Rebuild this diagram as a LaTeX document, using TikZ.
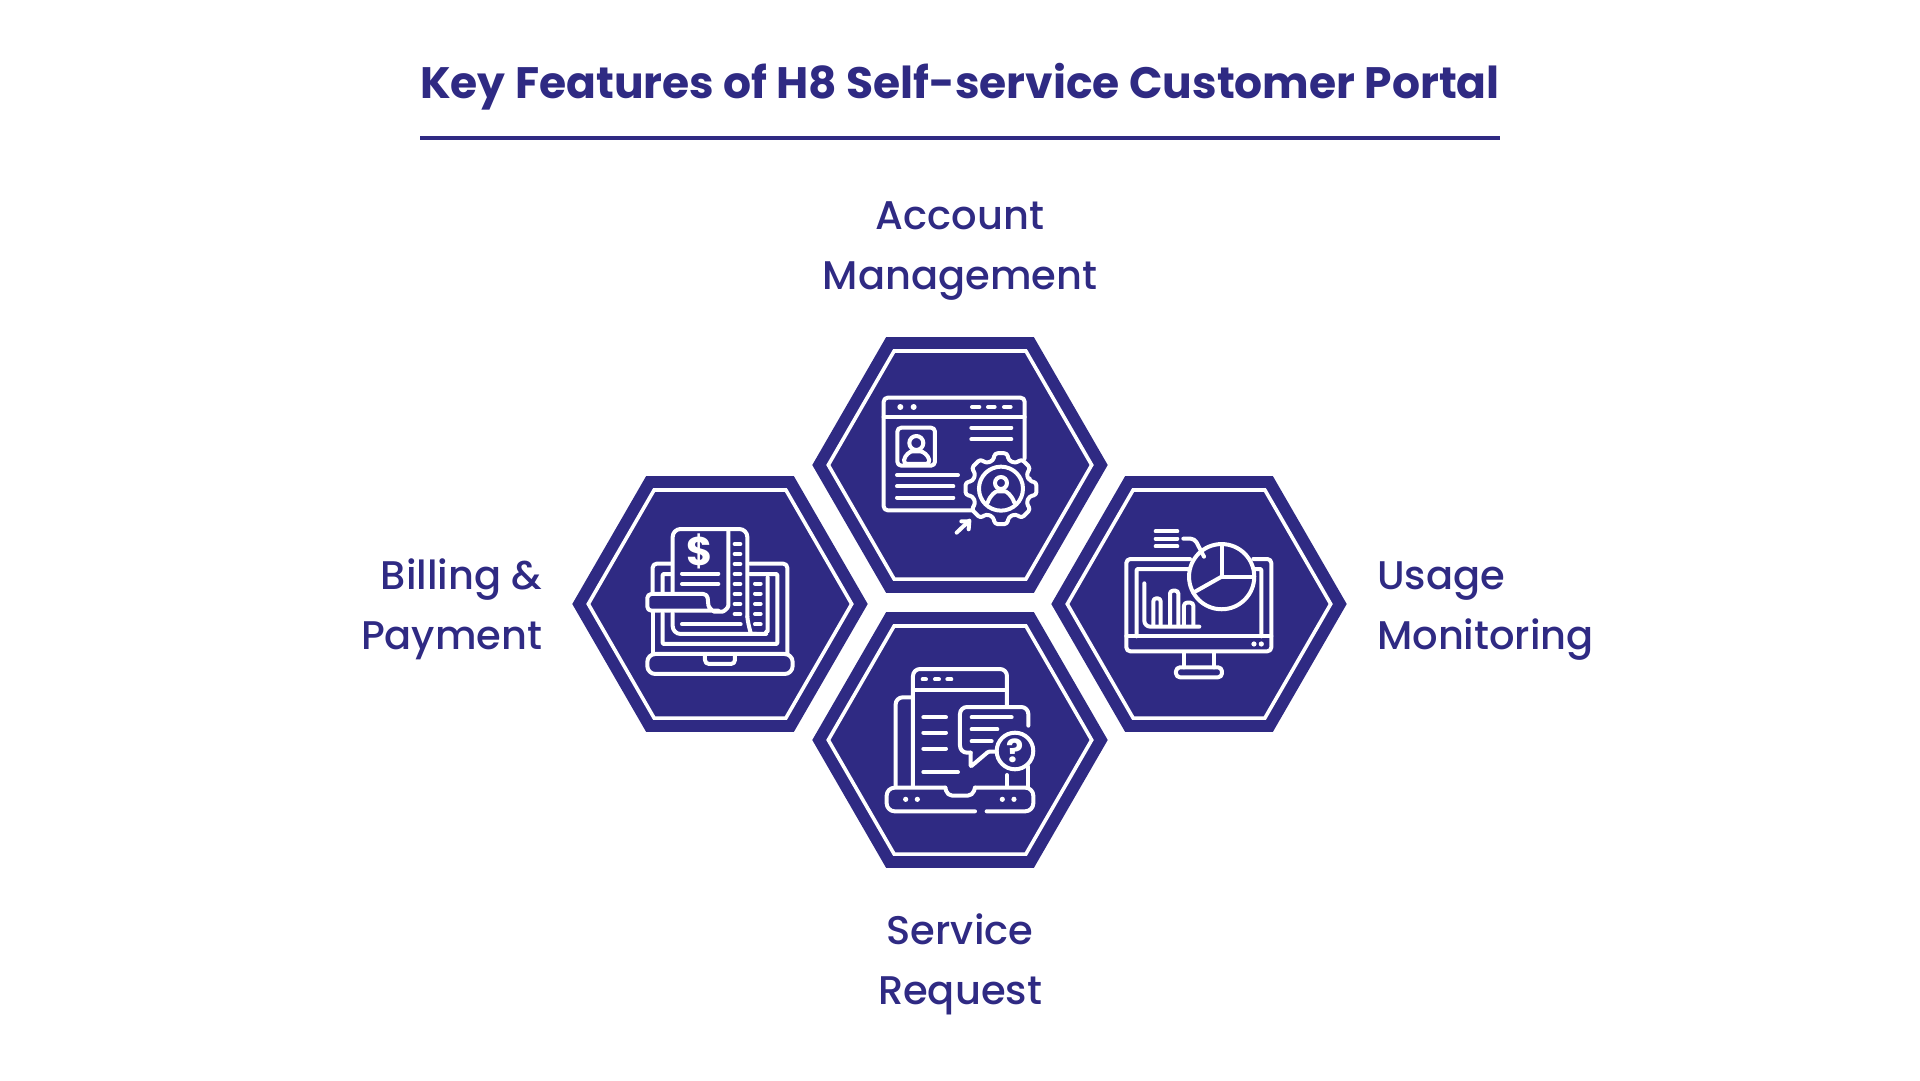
\documentclass[tikz,border=0pt]{standalone}
\usepackage{fontspec}
\setmainfont{Poppins}
\newfontfamily\medfont{Poppins Medium}
\usetikzlibrary{shapes.geometric}
\definecolor{hexblue}{HTML}{2F2A83}
\tikzset{
  hexouter/.style={regular polygon, regular polygon sides=6, fill=hexblue, minimum size=295.4pt, inner sep=0pt, outer sep=0pt},
  hexinner/.style={regular polygon, regular polygon sides=6, draw=white, line width=3.6pt, minimum size=263.4pt, inner sep=0pt, outer sep=0pt},
  labeltext/.style={text=hexblue, font=\fontsize{40}{60}\selectfont\medfont, inner sep=0pt},
  iconline/.style={draw=white, line width=4pt, line cap=round, line join=round, rounded corners=4pt},
  icondot/.style={fill=white, draw=none},
  iconscope/.style={x=0.3333pt, y=-0.3333pt}
}
\begin{document}
\begin{tikzpicture}[x=1pt, y=-1pt]
\useasboundingbox (0,0) rectangle (1920,1080);
% title
\node (title) [text=hexblue, font=\fontsize{44}{50}\selectfont\bfseries, inner sep=0pt] at (960,87) {Key Features of H8 Self-service Customer Portal};
\coordinate (ruleleft) at (420,138);
\coordinate (ruleright) at (1500,138);
\draw[hexblue, line width=3.6pt] (ruleleft) -- (ruleright);
% hexagons
\node (hexaccount) [hexouter] at (960,465) {};
\node (hexbilling) [hexouter] at (720,604) {};
\node (hexusage) [hexouter] at (1199,604) {};
\node (hexservice) [hexouter] at (960,740) {};
\node (lineaccount) [hexinner] at (hexaccount) {};
\node (linebilling) [hexinner] at (hexbilling) {};
\node (lineusage) [hexinner] at (hexusage) {};
\node (lineservice) [hexinner] at (hexservice) {};
% labels
\node (labelaccount) [labeltext, align=center] at (960,251) {Account\\Management};
\node (labelbilling) [labeltext, align=right, anchor=east] at (542.5,609) {Billing \&\\Payment};
\node (labelusage) [labeltext, align=left, anchor=west] at (1377,611) {Usage\\Monitoring};
\node (labelservice) [labeltext, align=center] at (960,964) {Service\\Request};
% account icon
\begin{scope}[shift={(800,320)}, iconscope]
\draw[iconline] (674,415) -- (674,233) -- (251,233) -- (251,571) -- (515,571);
\draw[iconline] (251,291) -- (674,291);
\foreach \px in {301,341} \fill[icondot] (\px,261) circle (3pt);
\foreach \px/\qx in {516/538,564/584,612/632} \draw[iconline] (\px,261) -- (\qx,261);
\draw[iconline] (292,323) rectangle (405,437);
\draw[iconline] (349,369) circle (7pt);
\draw[iconline] (310,432) .. controls (315,405) and (330,394) .. (349,394) .. controls (368,394) and (385,405) .. (390,432) -- cycle;
\foreach \py/\qx in {323/634,358/634} \draw[iconline] (514,\py) -- (\qx,\py);
\foreach \py/\qx in {465/474,499/460,533/460} \draw[iconline] (291,\py) -- (\qx,\py);
\begin{scope}[shift={(603,506)}]
\draw[iconline, rounded corners=3pt] (-15:88) foreach \a in {0,45,...,315} {-- (\a-15:88) -- (\a-10:108) -- (\a+10:108) -- (\a+15:88)} -- cycle;
\draw[iconline] (0,0) circle (22pt);
\draw[iconline] (0,-17) circle (6pt);
\draw[iconline] (-40,42) .. controls (-32,18) and (-15,8) .. (0,8) .. controls (15,8) and (32,18) .. (40,42);
\end{scope}
\draw[iconline, rounded corners=0pt] (470,638) -- (508,602);
\draw[iconline, rounded corners=0pt] (484,604) -- (508,604) -- (506,628);
\end{scope}
% billing icon
\begin{scope}[shift={(570,470)}, iconscope]
\draw[iconline] (248,365) -- (248,281) -- (305,281);
\draw[iconline] (248,428) -- (248,552);
\draw[iconline] (540,281) -- (652,281) -- (652,552);
\draw[iconline, rounded corners=1pt] (278,365) -- (278,312) -- (305,312);
\draw[iconline, rounded corners=1pt] (278,430) -- (278,522) -- (622,522) -- (622,312) -- (540,312);
\draw[iconline, rounded corners=8pt] (232,552) -- (232,612) -- (668,612) -- (668,552) -- cycle;
\draw[iconline] (405,555) -- (405,582) -- (495,582) -- (495,555);
\draw[iconline, rounded corners=8pt] (308,365) -- (308,177) -- (532,177) -- (532,440);
\draw[iconline, rounded corners=8pt] (308,430) -- (308,492) -- (560,492);
\draw[iconline, rounded corners=8pt] (532,440) .. controls (535,470) and (545,492) .. (565,492) .. controls (582,492) and (593,480) .. (593,460) -- (593,322);
\draw[iconline] (475,183) -- (475,395) .. controls (475,415) and (460,425) .. (445,425) .. controls (430,425) and (416,412) .. (414,395) -- (412,372) -- (232,372) -- (232,422) -- (445,422);
\node (dollar) [text=white, font=\fontsize{40}{40}\selectfont\bfseries, inner sep=0pt] at (390,245) {\$};
\foreach \py in {311,342} \draw[iconline] (336,\py) -- (445,\py);
\draw[iconline] (336,463) -- (512,463);
\foreach \py in {222,252,282,312,342,372,402,432} \draw[iconline] (494,\py) -- (511,\py);
\foreach \py in {341,371,402,432,463} \draw[iconline] (555,\py) -- (572,\py);
\end{scope}
% usage icon
\begin{scope}[shift={(1050,470)}, iconscope]
\draw[iconline] (420,267) -- (229,267) -- (229,544) -- (664,544) -- (664,267) -- (610,267);
\draw[iconline] (229,499) -- (664,499);
\draw[iconline, rounded corners=1pt] (260,499) -- (260,297) -- (415,297);
\draw[iconline, rounded corners=1pt] (612,297) -- (634,297) -- (634,499);
\foreach \px in {401,492} \draw[iconline] (\px,548) -- (\px,592);
\draw[iconline] (378,592) rectangle (516,622);
\foreach \px in {612,634} \fill[icondot] (\px,522) circle (2.6pt);
\draw[iconline, rounded corners=6pt] (283,340) -- (283,470) -- (448,470);
\draw[iconline, rounded corners=3pt] (310,465) -- (310,385) -- (332,385) -- (332,465);
\draw[iconline, rounded corners=3pt] (360,465) -- (360,362) -- (385,362) -- (385,465);
\draw[iconline, rounded corners=3pt] (402,465) -- (402,398) -- (430,398) -- (430,465);
\draw[iconline] (515,320) circle (32.6pt);
\draw[iconline, rounded corners=0pt] (515,222) -- (515,320) -- (612,320);
\draw[iconline, rounded corners=0pt] (515,320) -- (430,368);
\foreach \py in {184,206,229} \draw[iconline] (317,\py) -- (382,\py);
\draw[iconline] (400,206) -- (434,206) -- (462,260);
\end{scope}
% service icon
\begin{scope}[shift={(800,610)}, iconscope]
\draw[iconline, rounded corners=7pt] (339,530) -- (339,177) -- (621,177) -- (621,285);
\draw[iconline] (339,240) -- (621,240);
\foreach \px/\qx in {368/378,405/417,442/454} \draw[iconline] (\px,208) -- (\qx,208);
\draw[iconline, rounded corners=7pt] (287,530) -- (287,262) -- (339,262);
\foreach \py/\qx in {322/438,368/438,416/438,486/474} \draw[iconline] (370,\py) -- (\qx,\py);
\draw[iconline, rounded corners=7pt] (685,347) -- (685,291) -- (480,291) -- (480,428) -- (512,428);
\draw[iconline, rounded corners=1pt] (512,428) -- (512,470) -- (565,425) -- (590,425);
\foreach \py/\qx in {322/635,358/592,394/575} \draw[iconline] (515,\py) -- (\qx,\py);
\draw[iconline] (645,423) circle (18.3pt);
\node (question) [text=white, font=\fontsize{32}{32}\selectfont\bfseries, inner sep=0pt] at (646,423) {?};
\draw[iconline] (621,495) -- (621,530);
\draw[iconline] (685,470) -- (685,530);
\draw[iconline, rounded corners=8pt] (525,604) -- (260,604) -- (260,533) -- (436,533);
\draw[iconline, rounded corners=8pt] (560,604) -- (700,604) -- (700,533) -- (525,533);
\draw[iconline, rounded corners=5pt] (436,533) -- (442,557) -- (518,557) -- (525,533);
\foreach \px in {317,352,607,642} \fill[icondot] (\px,568) circle (2.6pt);
\end{scope}
\end{tikzpicture}
\end{document}
